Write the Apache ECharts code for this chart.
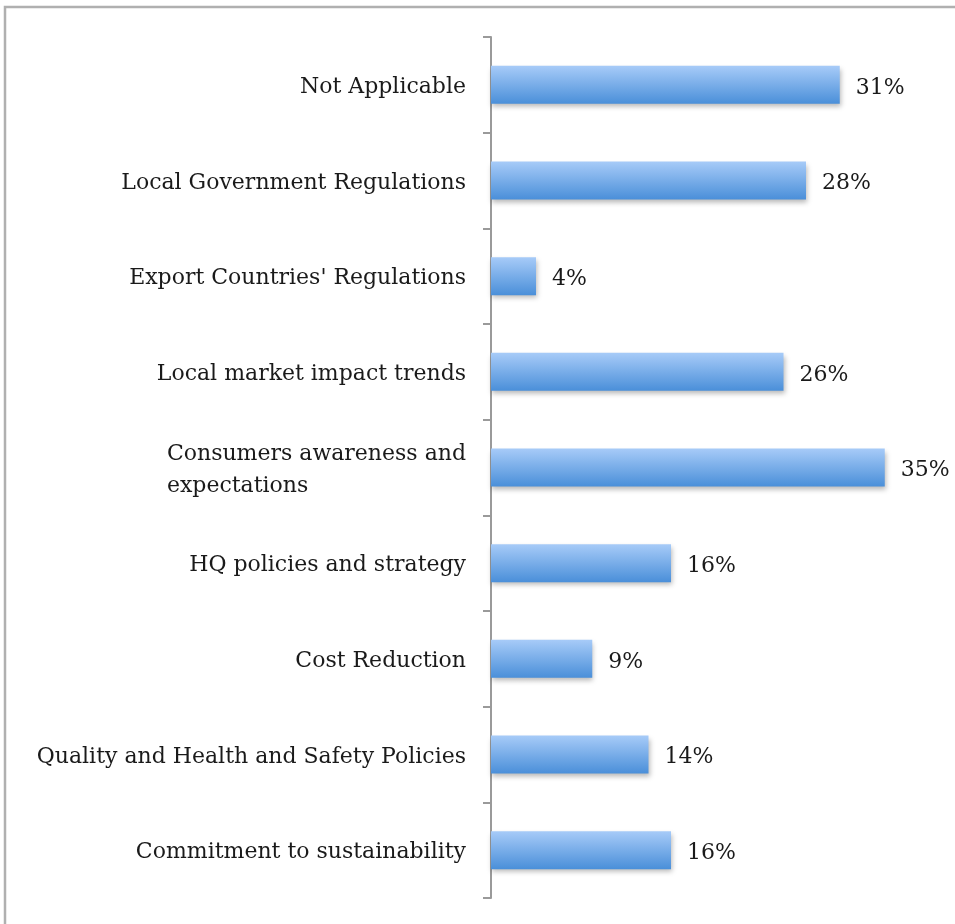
<!DOCTYPE html>
<html>
<head>
<meta charset="utf-8">
<script src="https://cdn.jsdelivr.net/npm/echarts@6/dist/echarts.min.js"></script>
<style>
  html, body { margin: 0; padding: 0; background: #fff; }
  #chart { width: 955px; height: 924px; }
</style>
</head>
<body>
<div id="chart"></div>
<script>
// Survey drivers, listed top to bottom
const categories = [
  'Not Applicable',
  'Local Government Regulations',
  "Export Countries' Regulations",
  'Local market impact trends',
  'Consumers awareness and\nexpectations',
  'HQ policies and strategy',
  'Cost Reduction',
  'Quality and Health and Safety Policies',
  'Commitment to sustainability'
];
const values = [31, 28, 4, 26, 35, 16, 9, 14, 16];

const FONT = 'DejaVu Serif';
const FONT_SIZE = 22;

// width of the widest line of a label, so wrapped lines can share a left edge
function lineWidth(text) {
  const c = document.createElement('canvas').getContext('2d');
  c.font = FONT_SIZE + 'px "' + FONT + '"';
  return Math.max.apply(null, text.split('\n').map(s => c.measureText(s).width));
}

const chart = echarts.init(document.getElementById('chart'));
chart.setOption({
  animation: false,
  backgroundColor: '#fff',
  graphic: [{
    type: 'rect',
    shape: { x: 5, y: 7, width: 1000, height: 1000 },
    style: { fill: 'none', stroke: '#b0b0b0', lineWidth: 2.5 },
    silent: true
  }],
  grid: { left: 491, top: 37, width: 450, bottom: 26, containLabel: false },
  xAxis: { type: 'value', min: 0, max: 40, show: false },
  yAxis: {
    type: 'category',
    inverse: true,
    data: categories,
    axisLine: { show: true, lineStyle: { color: '#9a9a9a', width: 2 } },
    axisTick: { show: true, length: 8, lineStyle: { color: '#9a9a9a', width: 2 } },
    axisLabel: {
      margin: 25,
      padding: [5, 0, 0, 0],
      fontFamily: FONT,
      fontSize: FONT_SIZE,
      color: '#1a1a1a',
      formatter: function (v) {
        if (v.indexOf('\n') < 0) return v;
        return '{m|' + v.split('\n').join('}\n{m|') + '}';
      },
      rich: {
        m: {
          fontFamily: FONT,
          fontSize: FONT_SIZE,
          color: '#1a1a1a',
          lineHeight: 32,
          align: 'left',
          width: lineWidth(categories[4])
        }
      }
    }
  },
  series: [{
    type: 'bar',
    data: values,
    barWidth: 38,
    itemStyle: {
      color: new echarts.graphic.LinearGradient(0, 0, 0, 1, [
        { offset: 0, color: '#a7cbf8' },
        { offset: 1, color: '#4a8fd9' }
      ]),
      shadowColor: 'rgba(0,0,0,0.28)',
      shadowBlur: 5,
      shadowOffsetY: 3,
      shadowOffsetX: 1
    },
    label: {
      show: true,
      position: 'right',
      distance: 16,
      offset: [0, 3],
      formatter: '{c}%',
      fontFamily: FONT,
      fontSize: FONT_SIZE,
      color: '#1a1a1a'
    }
  }]
});
</script>
</body>
</html>
